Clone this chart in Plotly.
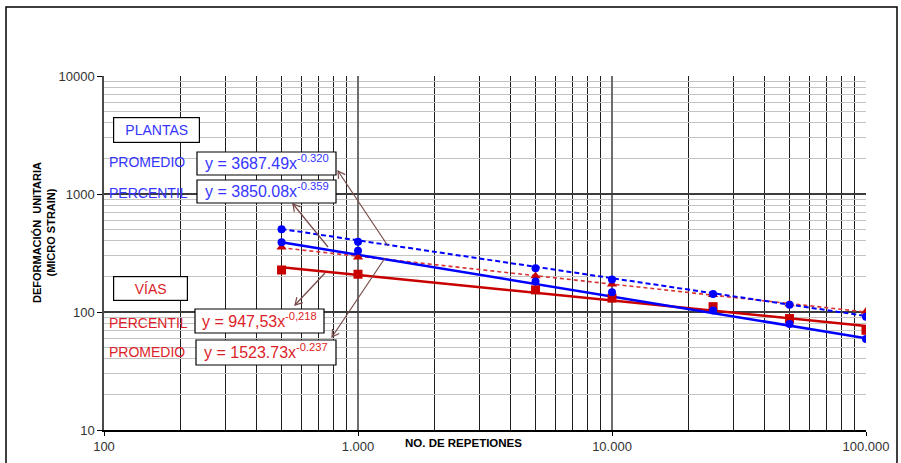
import math
import plotly.graph_objects as go

# ---------------- data ----------------
reps = [500, 1000, 5000, 10000, 25000, 50000, 100000]
plantas_promedio = [502, 394, 235, 189, 142, 115, 91]
plantas_percentil = [390, 331, 181, 147, 103, 79, 59]
vias_promedio = [353, 291, 202, 172, 140, 117, 101]
vias_percentil = [227, 209, 154, 131, 111, 88, 70]

trend_x = [500, 100000]
trend_plantas_promedio = [505, 92.5]
trend_plantas_percentil = [390, 60]
trend_vias_promedio = [350, 100]
trend_vias_percentil = [239, 76]

x_tickvals = [100, 1000, 10000, 100000]
x_ticktext = ["100", "1.000", "10.000", "100.000"]
y_tickvals = [10, 100, 1000, 10000]
y_ticktext = ["10", "100", "1000", "10000"]

eq_plantas_promedio = ("y = 3687.49x", "-0.320")
eq_plantas_percentil = ("y = 3850.08x", "-0.359")
eq_vias_percentil = ("y = 947,53x", "-0,218")
eq_vias_promedio = ("y = 1523.73x", "-0.237")

# ---------------- styling ----------------
BLUE = "#0000ff"
RED = "#c80000"
BLUE_TXT = "#3535ff"
RED_TXT = "#dc1e28"
ARROW = "#7a4a4a"
FONT = "Liberation Sans, Arial, sans-serif"

W, H = 901, 463
PL, PT, PR, PB = 104, 76, 866, 430          # plot area in screen pixels
PW, PH = PR - PL, PB - PT

# Arial / Liberation Sans advance widths (em) for text-width estimation
ADV = {"y": 0.5, " ": 0.278, "=": 0.584, ".": 0.278, ",": 0.278, "x": 0.5, "-": 0.333}


def text_w(s, size):
    return sum(ADV.get(c, 0.556) for c in s) * size


def px(x):
    return (x - PL) / PW


def py(y):
    return (PB - y) / PH


minor_x = [m * d for d in (100, 1000, 10000) for m in range(2, 10)]
minor_y = [m * d for d in (10, 100, 1000) for m in range(2, 10)]

fig = go.Figure()

# trend lines
fig.add_trace(go.Scatter(x=trend_x, y=trend_vias_percentil, mode="lines",
                         line=dict(color=RED, width=2.5), hoverinfo="skip"))
fig.add_trace(go.Scatter(x=trend_x, y=trend_vias_promedio, mode="lines",
                         line=dict(color="#d83434", width=1.6, dash="4px,3px"), hoverinfo="skip"))
fig.add_trace(go.Scatter(x=trend_x, y=trend_plantas_percentil, mode="lines",
                         line=dict(color=BLUE, width=2.5), hoverinfo="skip"))
fig.add_trace(go.Scatter(x=trend_x, y=trend_plantas_promedio, mode="lines",
                         line=dict(color=BLUE, width=2, dash="5px,3px"), hoverinfo="skip"))

# data markers
fig.add_trace(go.Scatter(x=reps, y=vias_percentil, mode="markers",
                         marker=dict(symbol="square", size=9, color=RED)))
fig.add_trace(go.Scatter(x=reps, y=vias_promedio, mode="markers",
                         marker=dict(symbol="triangle-up", size=9, color=RED)))
fig.add_trace(go.Scatter(x=reps, y=plantas_percentil, mode="markers",
                         marker=dict(symbol="circle", size=8, color=BLUE)))
fig.add_trace(go.Scatter(x=reps, y=plantas_promedio, mode="markers",
                         marker=dict(symbol="circle", size=8, color=BLUE)))

annotations = []
shapes = [dict(type="rect", xref="paper", yref="paper",
               x0=px(6), x1=px(897), y0=py(520), y1=py(7),
               line=dict(color="#000000", width=1.5), layer="below")]


def box(text, cx, cy, w, h, color, size):
    annotations.append(dict(
        text=text, xref="paper", yref="paper", x=px(cx), y=py(cy),
        xanchor="center", yanchor="middle", showarrow=False,
        width=w - 4, height=h - 4, borderpad=1, bordercolor="#000000",
        borderwidth=1.2, bgcolor="#ffffff",
        font=dict(family=FONT, size=size, color=color)))


def label(text, lx, cy, color):
    annotations.append(dict(
        text=text, xref="paper", yref="paper", x=px(lx), y=py(cy),
        xanchor="left", yanchor="middle", showarrow=False,
        font=dict(family=FONT, size=14, color=color)))


def arrow(hx, hy, tx, ty):
    shapes.append(dict(type="line", xref="paper", yref="paper",
                       x0=px(tx), y0=py(ty), x1=px(hx), y1=py(hy),
                       line=dict(color=ARROW, width=1.2), layer="above"))
    dx, dy = hx - tx, hy - ty
    n = math.hypot(dx, dy)
    ux, uy = dx / n, dy / n
    vx, vy = -uy, ux
    a1 = (hx - 7 * ux + 4 * vx, hy - 7 * uy + 4 * vy)
    a2 = (hx - 7 * ux - 4 * vx, hy - 7 * uy - 4 * vy)
    path = "M{:.5f},{:.5f} L{:.5f},{:.5f} L{:.5f},{:.5f}".format(
        px(a1[0]), py(a1[1]), px(hx), py(hy), px(a2[0]), py(a2[1]))
    shapes.append(dict(type="path", xref="paper", yref="paper", path=path,
                       line=dict(color=ARROW, width=1.2), layer="above"))


def eq_box(eq, x0, x1, y0, y1, color):
    main, sup = eq
    shapes.append(dict(type="rect", xref="paper", yref="paper",
                       x0=px(x0), x1=px(x1), y0=py(y1), y1=py(y0),
                       fillcolor="#ffffff", line=dict(color="#000000", width=1.2),
                       layer="above"))
    size, ssize = 16, 11.2
    mw, sw = text_w(main, size), text_w(sup, ssize)
    start = (x0 + x1) / 2 - (mw + sw) / 2
    cy = (y0 + y1) / 2
    annotations.append(dict(
        text=main, xref="paper", yref="paper", x=px(start), y=py(cy),
        xanchor="left", yanchor="middle", showarrow=False,
        borderpad=0, borderwidth=0,
        font=dict(family=FONT, size=size, color=color)))
    annotations.append(dict(
        text=sup, xref="paper", yref="paper", x=px(start + mw), y=py(cy - 5.5),
        xanchor="left", yanchor="middle", showarrow=False,
        borderpad=0, borderwidth=0,
        font=dict(family=FONT, size=ssize, color=color)))


box("PLANTAS", 156.5, 130, 87, 26, BLUE_TXT, 14)
box("VÍAS", 150.5, 288.5, 75, 25, RED_TXT, 14)
label("PROMEDIO", 107, 162, BLUE_TXT)
label("PERCENTIL", 107, 193, BLUE_TXT)
label("PERCENTIL", 107, 323, RED_TXT)
label("PROMEDIO", 107, 352, RED_TXT)

arrow(338, 171, 388, 246)
arrow(293, 204, 328, 247)
arrow(295, 305, 325, 273)
arrow(332, 337, 385, 258)

eq_box(eq_plantas_promedio, 197, 336, 152, 175, BLUE_TXT)
eq_box(eq_plantas_percentil, 197, 336, 180, 203, BLUE_TXT)
eq_box(eq_vias_percentil, 195, 324, 309, 333, RED_TXT)
eq_box(eq_vias_promedio, 196, 336, 340, 365, RED_TXT)

# axis titles
annotations.append(dict(
    text="<b>DEFORMACIÓN  UNITARIA<br>(MICRO STRAIN)</b>", xref="paper", yref="paper",
    x=px(44), y=py(233), xanchor="center", yanchor="middle", textangle=-90,
    showarrow=False, font=dict(family=FONT, size=11, color="#000000")))
annotations.append(dict(
    text="<b>NO. DE REPETIONES</b>", xref="paper", yref="paper",
    x=px(463), y=py(443), xanchor="center", yanchor="middle",
    showarrow=False, font=dict(family=FONT, size=11.5, color="#000000")))

fig.update_layout(
    width=W, height=H,
    margin=dict(l=PL, r=W - PR, t=PT, b=H - PB, pad=0, autoexpand=False),
    paper_bgcolor="#ffffff", plot_bgcolor="#ffffff",
    showlegend=False,
    annotations=annotations,
    shapes=shapes,
    xaxis=dict(
        type="log", range=[2, 5], tickvals=x_tickvals, ticktext=x_ticktext,
        showgrid=True, gridcolor="#6e6e6e", gridwidth=1.8,
        showline=True, linecolor="#000000", linewidth=1.5,
        ticks="outside", ticklen=4, tickcolor="#000000",
        tickfont=dict(family=FONT, size=13, color="#333333"),
        minor=dict(tickvals=minor_x, showgrid=True, gridcolor="#1e1e1e",
                   gridwidth=1.3, ticks=""),
        automargin=False, zeroline=False, fixedrange=True),
    yaxis=dict(
        type="log", range=[1, 4], tickvals=y_tickvals, ticktext=y_ticktext,
        showgrid=True, gridcolor="#3c3c3c", gridwidth=1.8,
        showline=True, linecolor="#4a4a4a", linewidth=1.5,
        ticks="outside", ticklen=5, tickcolor="#000000",
        tickfont=dict(family=FONT, size=13, color="#333333"),
        minor=dict(tickvals=minor_y, showgrid=True, gridcolor="#c4c4c4",
                   gridwidth=1.2, ticks=""),
        automargin=False, zeroline=False, fixedrange=True),
)

fig.write_html("out.html", config={"displayModeBar": False},
               post_script="document.body.style.margin='0';document.body.style.overflow='hidden';")
